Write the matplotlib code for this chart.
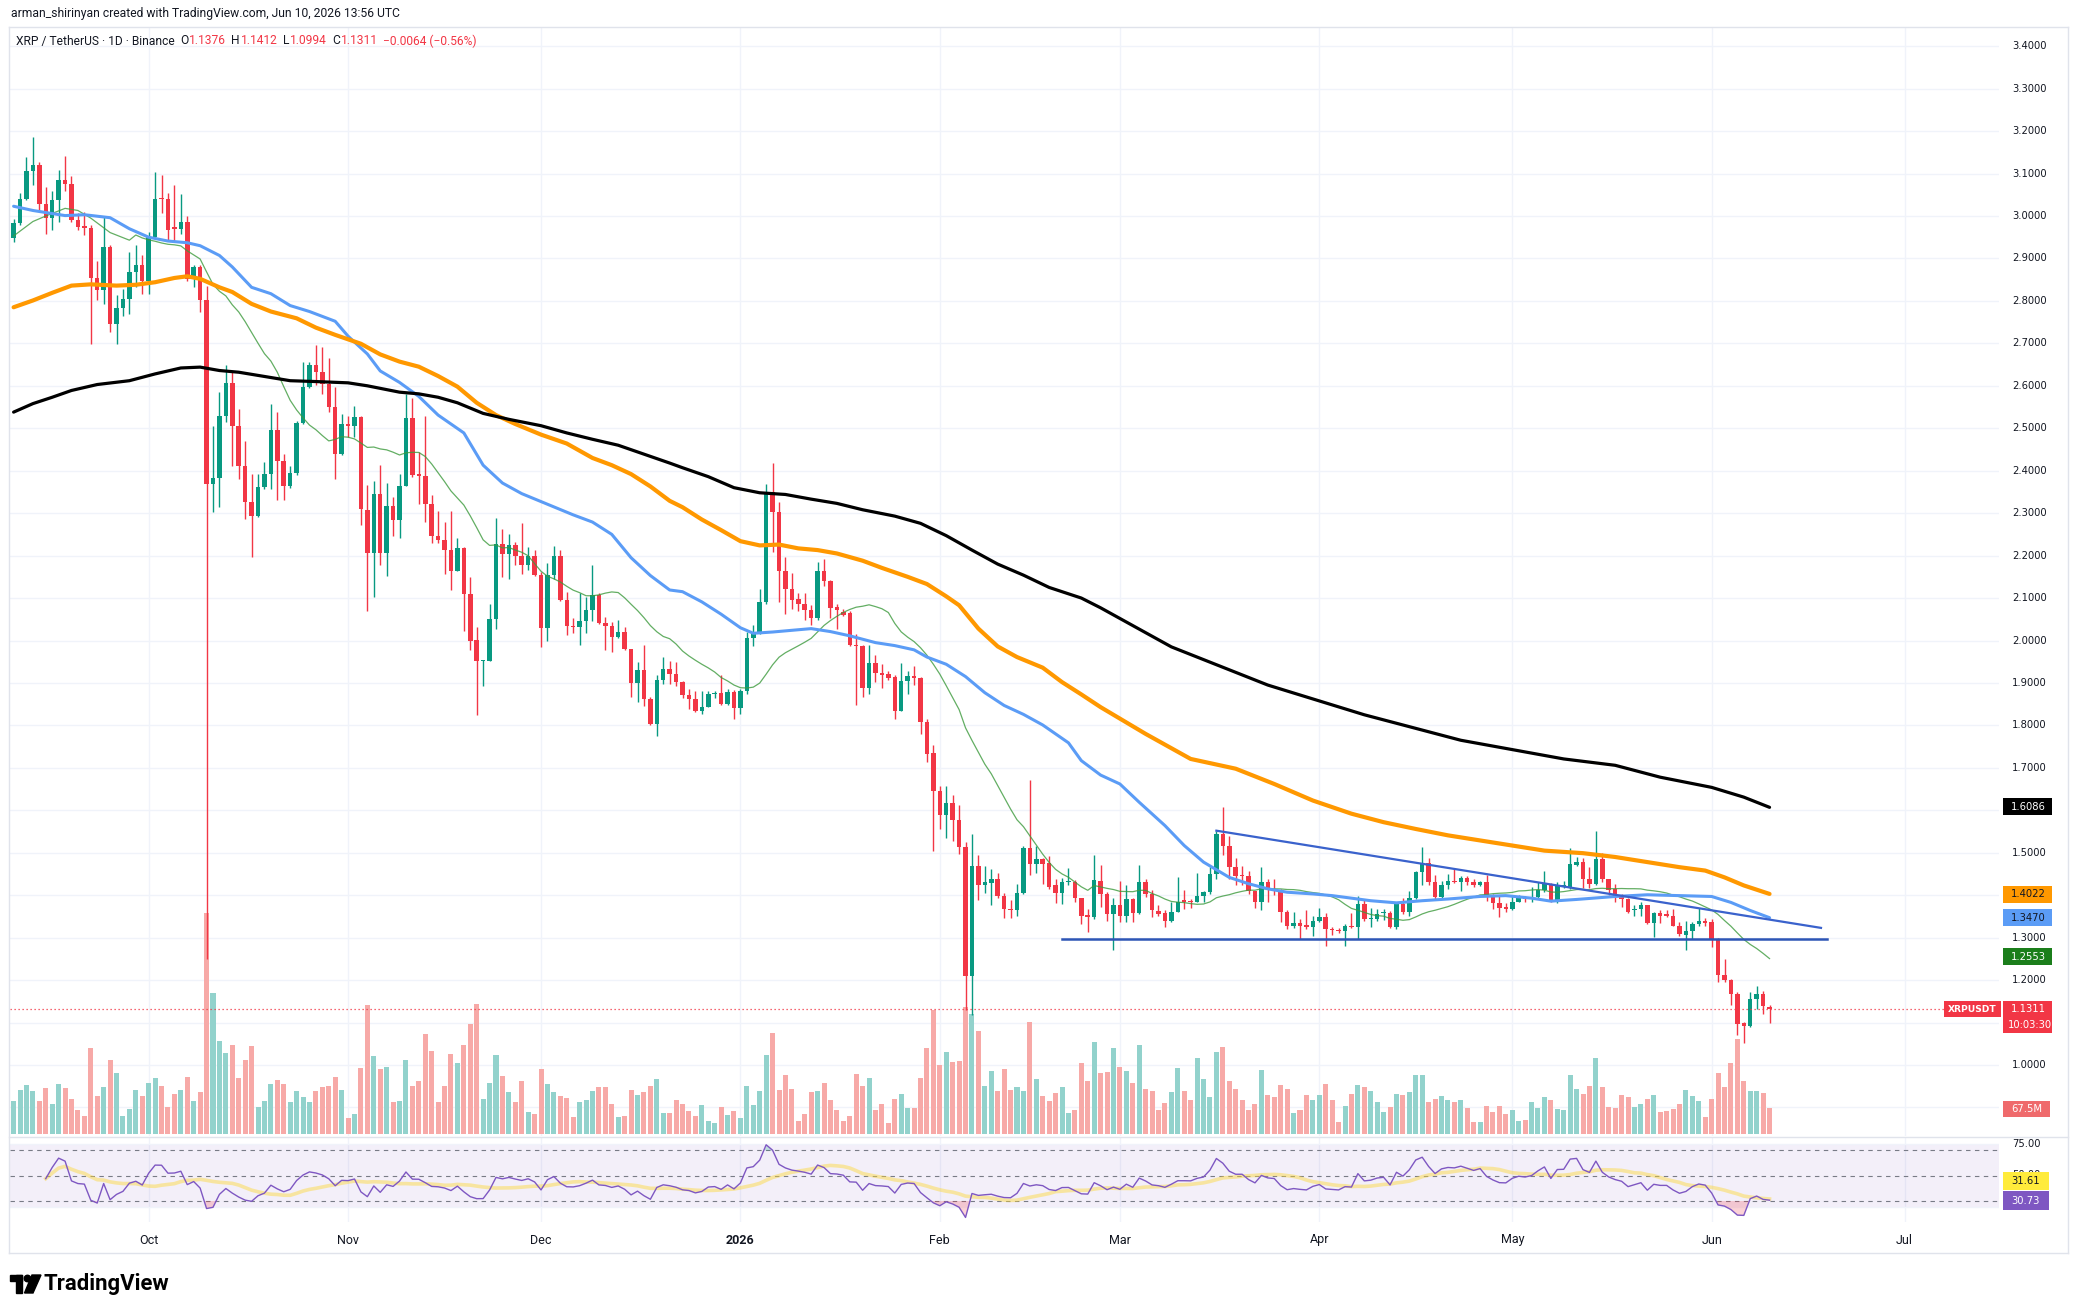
import numpy as np
import pandas as pd
import matplotlib
matplotlib.use("Agg")
import matplotlib.pyplot as plt
import matplotlib.transforms as mtransforms
from matplotlib.patches import Rectangle, Polygon, Ellipse
from matplotlib.lines import Line2D

# ============================ DATA ============================
# daily candles, index 0 = 2025-09-10 ... index 273 = 2026-06-10
opens = [
    2.948, 2.983, 3.039, 3.105, 3.121, 3.029, 2.996, 3.037, 3.085, 3.076,
    2.990, 2.976, 2.972, 2.854, 2.825, 2.927, 2.746, 2.783, 2.805, 2.868,
    2.884, 2.846, 2.950, 3.041, 3.041, 2.971, 2.970, 2.987, 2.852, 2.880,
    2.801, 2.369, 2.382, 2.530, 2.607, 2.506, 2.410, 2.327, 2.294, 2.361,
    2.393, 2.496, 2.424, 2.365, 2.395, 2.513, 2.597, 2.648, 2.632, 2.605,
    2.550, 2.440, 2.510, 2.506, 2.526, 2.308, 2.205, 2.345, 2.205, 2.317,
    2.283, 2.365, 2.525, 2.390, 2.388, 2.321, 2.245, 2.237, 2.213, 2.163,
    2.218, 2.109, 2.000, 1.951, 1.952, 2.050, 2.227, 2.203, 2.224, 2.199,
    2.178, 2.199, 2.155, 2.029, 2.155, 2.199, 2.096, 2.035, 2.031, 2.045,
    2.073, 2.107, 2.042, 2.034, 2.008, 2.021, 1.979, 1.899, 1.930, 1.863,
    1.804, 1.908, 1.934, 1.922, 1.903, 1.871, 1.862, 1.833, 1.843, 1.874,
    1.877, 1.850, 1.879, 1.842, 1.881, 2.007, 2.020, 2.091, 2.349, 2.303,
    2.163, 2.121, 2.097, 2.085, 2.072, 2.053, 2.164, 2.139, 2.080, 2.068,
    2.064, 1.990, 1.988, 1.888, 1.948, 1.923, 1.921, 1.915, 1.835, 1.904,
    1.916, 1.912, 1.807, 1.734, 1.646, 1.589, 1.618, 1.578, 1.513, 1.210,
    1.469, 1.423, 1.429, 1.437, 1.397, 1.368, 1.364, 1.406, 1.511, 1.473,
    1.486, 1.475, 1.423, 1.405, 1.431, 1.432, 1.393, 1.353, 1.348, 1.434,
    1.402, 1.356, 1.376, 1.352, 1.390, 1.358, 1.431, 1.403, 1.362, 1.357,
    1.340, 1.361, 1.387, 1.386, 1.385, 1.399, 1.407, 1.450, 1.544, 1.517,
    1.466, 1.448, 1.445, 1.409, 1.385, 1.432, 1.415, 1.411, 1.361, 1.327,
    1.334, 1.330, 1.324, 1.340, 1.348, 1.321, 1.318, 1.315, 1.328, 1.325,
    1.379, 1.344, 1.344, 1.357, 1.359, 1.324, 1.379, 1.361, 1.393, 1.454,
    1.475, 1.432, 1.395, 1.424, 1.433, 1.431, 1.441, 1.432, 1.423, 1.431,
    1.400, 1.382, 1.369, 1.368, 1.385, 1.393, 1.390, 1.395, 1.412, 1.427,
    1.387, 1.421, 1.419, 1.471, 1.478, 1.438, 1.427, 1.486, 1.437, 1.415,
    1.400, 1.390, 1.364, 1.368, 1.376, 1.334, 1.358, 1.353, 1.352, 1.328,
    1.307, 1.315, 1.331, 1.340, 1.336, 1.297, 1.212, 1.201, 1.167, 1.098,
    1.093, 1.156, 1.167, 1.1376]
highs = [
    2.993, 3.055, 3.139, 3.186, 3.127, 3.068, 3.060, 3.109, 3.141, 3.094,
    3.007, 3.009, 2.978, 2.895, 2.997, 2.931, 2.813, 2.829, 2.915, 2.931,
    2.907, 2.962, 3.103, 3.097, 3.055, 3.072, 3.052, 3.001, 2.884, 2.884,
    2.836, 2.506, 2.585, 2.648, 2.632, 2.546, 2.471, 2.393, 2.393, 2.420,
    2.557, 2.538, 2.440, 2.412, 2.518, 2.656, 2.656, 2.697, 2.691, 2.665,
    2.597, 2.534, 2.530, 2.553, 2.530, 2.367, 2.376, 2.413, 2.371, 2.338,
    2.392, 2.580, 2.571, 2.443, 2.529, 2.342, 2.304, 2.279, 2.306, 2.241,
    2.220, 2.149, 2.031, 1.953, 2.086, 2.289, 2.262, 2.252, 2.233, 2.276,
    2.220, 2.214, 2.161, 2.182, 2.222, 2.214, 2.115, 2.052, 2.111, 2.103,
    2.178, 2.111, 2.056, 2.044, 2.048, 2.031, 1.981, 1.950, 1.989, 1.867,
    1.919, 1.960, 1.951, 1.950, 1.905, 1.885, 1.881, 1.881, 1.881, 1.881,
    1.919, 1.885, 1.883, 1.885, 2.020, 2.037, 2.121, 2.369, 2.417, 2.327,
    2.196, 2.159, 2.112, 2.112, 2.083, 2.184, 2.192, 2.143, 2.087, 2.074,
    2.070, 2.016, 1.989, 1.990, 1.965, 1.944, 1.927, 1.919, 1.946, 1.929,
    1.940, 1.915, 1.814, 1.755, 1.658, 1.657, 1.637, 1.612, 1.525, 1.545,
    1.494, 1.469, 1.461, 1.452, 1.406, 1.389, 1.427, 1.515, 1.671, 1.515,
    1.488, 1.493, 1.438, 1.440, 1.463, 1.435, 1.393, 1.368, 1.495, 1.470,
    1.407, 1.393, 1.434, 1.423, 1.393, 1.471, 1.437, 1.412, 1.376, 1.364,
    1.385, 1.442, 1.412, 1.391, 1.453, 1.411, 1.466, 1.552, 1.607, 1.539,
    1.487, 1.468, 1.456, 1.411, 1.466, 1.437, 1.438, 1.415, 1.364, 1.360,
    1.344, 1.364, 1.352, 1.369, 1.358, 1.325, 1.322, 1.332, 1.358, 1.399,
    1.390, 1.369, 1.368, 1.368, 1.362, 1.383, 1.393, 1.411, 1.456, 1.513,
    1.487, 1.448, 1.434, 1.450, 1.462, 1.446, 1.446, 1.438, 1.434, 1.448,
    1.403, 1.399, 1.382, 1.399, 1.401, 1.399, 1.419, 1.430, 1.456, 1.429,
    1.432, 1.434, 1.511, 1.490, 1.487, 1.466, 1.552, 1.500, 1.438, 1.427,
    1.403, 1.393, 1.376, 1.385, 1.378, 1.360, 1.364, 1.364, 1.368, 1.338,
    1.339, 1.336, 1.369, 1.346, 1.344, 1.299, 1.250, 1.203, 1.171, 1.101,
    1.171, 1.187, 1.175, 1.1412]
lows = [
    2.938, 2.979, 3.037, 3.072, 3.013, 2.958, 2.966, 2.986, 3.060, 2.986,
    2.967, 2.956, 2.699, 2.801, 2.793, 2.726, 2.699, 2.764, 2.769, 2.832,
    2.817, 2.817, 2.946, 3.007, 2.942, 2.942, 2.958, 2.848, 2.832, 2.774,
    1.250, 2.302, 2.314, 2.514, 2.412, 2.381, 2.287, 2.196, 2.290, 2.357,
    2.356, 2.330, 2.330, 2.360, 2.389, 2.510, 2.594, 2.601, 2.581, 2.538,
    2.381, 2.436, 2.479, 2.479, 2.271, 2.069, 2.102, 2.178, 2.153, 2.245,
    2.241, 2.363, 2.384, 2.321, 2.279, 2.229, 2.229, 2.157, 2.118, 2.163,
    2.023, 1.977, 1.825, 1.892, 1.951, 2.027, 2.149, 2.146, 2.178, 2.157,
    2.166, 2.153, 1.985, 1.998, 2.145, 2.094, 2.014, 2.017, 1.989, 2.018,
    2.045, 2.040, 1.977, 1.972, 2.006, 1.977, 1.867, 1.855, 1.846, 1.800,
    1.775, 1.897, 1.897, 1.893, 1.865, 1.839, 1.831, 1.826, 1.843, 1.865,
    1.847, 1.847, 1.814, 1.826, 1.873, 1.986, 2.016, 2.087, 2.209, 2.091,
    2.062, 2.074, 2.070, 2.049, 2.037, 2.049, 2.129, 2.053, 2.028, 2.058,
    1.986, 1.847, 1.868, 1.873, 1.902, 1.889, 1.906, 1.814, 1.833, 1.875,
    1.894, 1.780, 1.713, 1.505, 1.557, 1.534, 1.528, 1.497, 1.130, 1.118,
    1.389, 1.406, 1.376, 1.393, 1.347, 1.347, 1.351, 1.404, 1.448, 1.452,
    1.427, 1.415, 1.382, 1.380, 1.424, 1.383, 1.331, 1.314, 1.343, 1.372,
    1.340, 1.272, 1.336, 1.336, 1.336, 1.356, 1.395, 1.348, 1.350, 1.325,
    1.338, 1.360, 1.368, 1.369, 1.385, 1.383, 1.403, 1.437, 1.495, 1.438,
    1.423, 1.423, 1.403, 1.369, 1.364, 1.383, 1.400, 1.336, 1.320, 1.322,
    1.297, 1.320, 1.305, 1.336, 1.281, 1.306, 1.310, 1.281, 1.322, 1.297,
    1.340, 1.325, 1.340, 1.341, 1.322, 1.320, 1.356, 1.352, 1.392, 1.424,
    1.424, 1.391, 1.393, 1.415, 1.429, 1.411, 1.424, 1.420, 1.421, 1.387,
    1.368, 1.348, 1.360, 1.366, 1.383, 1.385, 1.385, 1.391, 1.407, 1.385,
    1.382, 1.416, 1.415, 1.468, 1.416, 1.416, 1.423, 1.432, 1.401, 1.383,
    1.372, 1.358, 1.352, 1.352, 1.331, 1.301, 1.334, 1.348, 1.328, 1.305,
    1.270, 1.297, 1.328, 1.328, 1.277, 1.196, 1.195, 1.142, 1.071, 1.053,
    1.089, 1.132, 1.120, 1.0994]
closes = [
    2.984, 3.041, 3.107, 3.121, 3.029, 2.996, 3.038, 3.085, 3.075, 2.990,
    2.975, 2.972, 2.854, 2.825, 2.927, 2.746, 2.783, 2.805, 2.868, 2.884,
    2.846, 2.950, 3.041, 3.040, 2.968, 2.970, 2.987, 2.852, 2.880, 2.801,
    2.369, 2.382, 2.530, 2.607, 2.506, 2.410, 2.327, 2.294, 2.361, 2.393,
    2.496, 2.424, 2.365, 2.395, 2.513, 2.597, 2.648, 2.632, 2.605, 2.550,
    2.440, 2.510, 2.506, 2.526, 2.310, 2.205, 2.345, 2.205, 2.317, 2.283,
    2.365, 2.525, 2.390, 2.388, 2.321, 2.245, 2.237, 2.213, 2.163, 2.218,
    2.109, 2.000, 1.951, 1.952, 2.050, 2.227, 2.203, 2.224, 2.199, 2.178,
    2.199, 2.155, 2.029, 2.155, 2.199, 2.096, 2.034, 2.031, 2.045, 2.073,
    2.107, 2.042, 2.034, 2.008, 2.021, 1.979, 1.899, 1.930, 1.863, 1.804,
    1.908, 1.934, 1.922, 1.903, 1.871, 1.862, 1.833, 1.843, 1.874, 1.877,
    1.850, 1.879, 1.842, 1.881, 2.007, 2.020, 2.091, 2.349, 2.303, 2.163,
    2.121, 2.096, 2.085, 2.072, 2.053, 2.164, 2.139, 2.076, 2.072, 2.060,
    1.989, 1.986, 1.888, 1.948, 1.923, 1.919, 1.912, 1.835, 1.904, 1.916,
    1.911, 1.807, 1.732, 1.646, 1.589, 1.618, 1.578, 1.513, 1.210, 1.469,
    1.423, 1.431, 1.437, 1.397, 1.368, 1.364, 1.406, 1.511, 1.473, 1.486,
    1.474, 1.420, 1.405, 1.431, 1.432, 1.393, 1.352, 1.348, 1.436, 1.402,
    1.356, 1.376, 1.352, 1.390, 1.358, 1.431, 1.403, 1.364, 1.356, 1.340,
    1.361, 1.385, 1.385, 1.384, 1.399, 1.407, 1.450, 1.544, 1.517, 1.466,
    1.445, 1.445, 1.409, 1.385, 1.432, 1.415, 1.411, 1.361, 1.328, 1.334,
    1.328, 1.324, 1.340, 1.348, 1.321, 1.318, 1.315, 1.327, 1.325, 1.379,
    1.344, 1.347, 1.356, 1.359, 1.324, 1.379, 1.361, 1.393, 1.454, 1.474,
    1.432, 1.395, 1.424, 1.433, 1.431, 1.441, 1.432, 1.423, 1.432, 1.399,
    1.382, 1.369, 1.368, 1.385, 1.393, 1.390, 1.395, 1.412, 1.427, 1.387,
    1.423, 1.424, 1.474, 1.478, 1.438, 1.427, 1.486, 1.437, 1.413, 1.399,
    1.390, 1.360, 1.368, 1.376, 1.334, 1.358, 1.352, 1.352, 1.328, 1.309,
    1.315, 1.331, 1.340, 1.335, 1.297, 1.212, 1.201, 1.167, 1.097, 1.093,
    1.156, 1.167, 1.138, 1.1311]
# volume bar heights (relative units)
volumes = [
    100, 132, 147, 129, 99, 138, 90, 150, 138, 105,
    72, 54, 258, 114, 141, 222, 183, 54, 75, 132,
    114, 153, 168, 144, 81, 120, 132, 171, 99, 126,
    664, 423, 279, 243, 267, 168, 222, 264, 81, 99,
    150, 162, 150, 96, 129, 111, 96, 129, 141, 144,
    171, 132, 48, 60, 198, 387, 234, 195, 201, 96,
    99, 222, 144, 159, 300, 249, 96, 144, 240, 213,
    267, 330, 390, 105, 153, 237, 174, 126, 96, 159,
    66, 60, 195, 150, 126, 114, 108, 51, 96, 102,
    129, 141, 141, 90, 51, 54, 132, 117, 126, 144,
    165, 63, 63, 102, 90, 69, 54, 87, 39, 33,
    81, 57, 69, 48, 144, 87, 129, 237, 303, 132,
    177, 135, 39, 60, 126, 129, 153, 102, 72, 39,
    54, 180, 144, 168, 72, 90, 33, 105, 120, 77,
    78, 168, 258, 372, 207, 246, 217, 219, 380, 360,
    309, 144, 189, 130, 195, 132, 142, 130, 336, 165,
    114, 99, 124, 141, 63, 72, 213, 159, 276, 184,
    186, 258, 201, 189, 153, 267, 135, 129, 72, 93,
    126, 198, 129, 102, 228, 165, 111, 246, 261, 159,
    135, 102, 72, 90, 192, 117, 111, 147, 135, 63,
    72, 117, 102, 117, 150, 102, 36, 84, 120, 147,
    141, 129, 96, 66, 81, 120, 117, 126, 177, 177,
    96, 105, 114, 102, 96, 102, 78, 36, 36, 84,
    66, 84, 60, 72, 39, 42, 96, 78, 111, 102,
    75, 72, 177, 135, 120, 144, 228, 141, 81, 78,
    117, 111, 81, 90, 105, 117, 66, 69, 75, 90,
    132, 114, 99, 51, 105, 183, 141, 213, 285, 159,
    129, 129, 123, 78]

month_ticks = [21, 52, 82, 113, 144, 172, 203, 233, 264, 294]
month_labels = ["Oct", "Nov", "Dec", "2026", "Feb", "Mar", "Apr", "May", "Jun", "Jul"]

# 20-day MA: readings for the first days (before 20 closes exist)
ma20_head_day = [0, 3, 5, 8, 10, 12, 15, 18]
ma20_head_val = [2.953, 2.987, 3.000, 3.018, 3.013, 2.995, 2.961, 2.943]

ma50_day = [0, 3, 8, 11, 15, 18, 21, 24, 27, 29, 32, 34, 37, 40, 43, 46, 50, 52,
            55, 57, 60, 63, 66, 70, 73, 76, 79, 83, 87, 90, 93, 96, 99, 102, 104,
            107, 110, 113, 115, 118, 121, 124, 127, 130, 134, 137, 140, 142, 145,
            148, 151, 154, 157, 160, 164, 166, 169, 172, 175, 179, 182, 185, 189,
            192, 195, 198, 202, 205, 208, 211, 215, 219, 223, 228, 232, 236, 239,
            243, 249, 254, 259, 264, 267, 270, 273]
ma50_val = [3.023, 3.013, 3.001, 3.003, 2.996, 2.970, 2.950, 2.941, 2.937, 2.930,
            2.907, 2.880, 2.832, 2.817, 2.789, 2.775, 2.752, 2.717, 2.675, 2.635,
            2.608, 2.575, 2.531, 2.489, 2.413, 2.371, 2.346, 2.321, 2.296, 2.279,
            2.250, 2.195, 2.153, 2.119, 2.115, 2.091, 2.062, 2.030, 2.017, 2.020,
            2.024, 2.028, 2.021, 2.011, 1.995, 1.988, 1.978, 1.961, 1.944, 1.915,
            1.877, 1.847, 1.826, 1.801, 1.759, 1.717, 1.683, 1.662, 1.619, 1.564,
            1.517, 1.478, 1.442, 1.427, 1.415, 1.407, 1.403, 1.399, 1.393, 1.387,
            1.382, 1.387, 1.391, 1.397, 1.399, 1.393, 1.386, 1.390, 1.397, 1.401,
            1.399, 1.397, 1.383, 1.364, 1.347]

ma100_day = [0, 3, 6, 9, 12, 16, 19, 22, 25, 27, 29, 32, 34, 37, 40, 44, 47, 50,
             54, 57, 60, 63, 66, 69, 72, 75, 78, 82, 86, 90, 93, 96, 99, 102, 104,
             107, 110, 113, 116, 119, 122, 125, 128, 132, 135, 139, 142, 145, 147,
             150, 153, 156, 160, 163, 166, 169, 176, 183, 190, 196, 202, 208, 213,
             218, 223, 228, 233, 238, 244, 249, 254, 259, 263, 266, 269, 273]
ma100_val = [2.785, 2.801, 2.819, 2.836, 2.839, 2.836, 2.838, 2.844, 2.854, 2.858,
             2.852, 2.832, 2.821, 2.793, 2.775, 2.759, 2.737, 2.720, 2.699, 2.674,
             2.657, 2.645, 2.623, 2.598, 2.560, 2.531, 2.510, 2.485, 2.464, 2.430,
             2.413, 2.392, 2.363, 2.329, 2.314, 2.285, 2.260, 2.234, 2.224, 2.226,
             2.217, 2.213, 2.205, 2.188, 2.171, 2.150, 2.133, 2.104, 2.083, 2.028,
             1.986, 1.961, 1.936, 1.902, 1.873, 1.843, 1.780, 1.721, 1.698, 1.662,
             1.623, 1.592, 1.572, 1.556, 1.541, 1.529, 1.517, 1.505, 1.499, 1.490,
             1.478, 1.466, 1.458, 1.442, 1.423, 1.403]

ma200_day = [0, 3, 6, 9, 13, 18, 22, 26, 29, 32, 35, 39, 43, 47, 52, 55, 60, 63,
             66, 69, 73, 77, 82, 86, 90, 94, 98, 102, 104, 108, 112, 116, 120, 124,
             128, 132, 137, 141, 145, 149, 153, 157, 161, 166, 169, 180, 195, 210,
             225, 241, 249, 256, 264, 269, 273]
ma200_val = [2.538, 2.558, 2.573, 2.589, 2.603, 2.612, 2.628, 2.642, 2.644, 2.636,
             2.632, 2.622, 2.612, 2.610, 2.607, 2.600, 2.585, 2.581, 2.573, 2.560,
             2.535, 2.521, 2.506, 2.489, 2.474, 2.460, 2.439, 2.418, 2.407, 2.386,
             2.360, 2.348, 2.344, 2.333, 2.323, 2.308, 2.293, 2.276, 2.247, 2.213,
             2.180, 2.154, 2.125, 2.100, 2.077, 1.985, 1.895, 1.825, 1.765, 1.721,
             1.706, 1.678, 1.654, 1.631, 1.607]

resist_day = [187, 281]
resist_val = [1.552, 1.323]
support_day = [163, 282]
support_val = [1.296, 1.296]

price_ticks = [1.0, 1.2, 1.3, 1.5, 1.7, 1.8, 1.9, 2.0, 2.1, 2.2, 2.3, 2.4, 2.5,
               2.6, 2.7, 2.8, 2.9, 3.0, 3.1, 3.2, 3.3, 3.4]
last_price = 1.1311
ma_tags = [(1.6086, "1.6086", "#000000", "white"),
           (1.4022, "1.4022", "#FF9800", "#131722"),
           (1.3470, "1.3470", "#5B9CF6", "#131722"),
           (1.2553, "1.2553", "#1B7E1B", "white")]
countdown = "10:03:30"
volume_tag = "67.5M"
rsi_ticks = [75, 50, 25]
rsi_ma_tag = "31.61"
rsi_tag = "30.73"

title = "arman_shirinyan created with TradingView.com, Jun 10, 2026 13:56 UTC"
legend_parts = [("XRP / TetherUS \u00b7 1D \u00b7 Binance", "d"), ("O", "d"), ("1.1376", "r"),
                ("H", "d"), ("1.1412", "r"), ("L", "d"), ("1.0994", "r"),
                ("C", "d"), ("1.1311", "r"), ("\u22120.0064 (\u22120.56%)", "r")]

assert len(opens) == len(highs) == len(lows) == len(closes) == len(volumes) == 274

# ============================ LAYOUT ============================
W, H = 2078, 1314
fig = plt.figure(figsize=(W / 100, H / 100), dpi=100, facecolor="white")
renderer = fig.canvas.get_renderer()

PX_DAY = 6.432
L, R = 10, 1999
TOP, BOT = 27, 1136
RT, RB = 1137, 1222
X0 = -0.56
X1 = X0 + (R - L) / PX_DAY
PPX = 424.5
P_TOP = 1 + (1065 - TOP) / PPX
P_BOT = 1 + (1065 - BOT) / PPX
RSI_TOP = 70 + (1150 - RT) / 1.275
RSI_BOT = 30 - (RB - 1201) / 1.275

DARK = "#131722"
RED = "#F23645"
GREEN = "#089981"
GRID = "#F0F3FA"
BORDER = "#E0E3EB"


def add_ax(t, b):
    return fig.add_axes([L / W, 1 - b / H, (R - L) / W, (b - t) / H])


ax_bg = add_ax(TOP, BOT)
ax = add_ax(TOP, BOT)
axr = add_ax(RT, RB)
for a in (ax_bg, ax, axr):
    a.set_xlim(X0, X1)
    for s in a.spines.values():
        s.set_visible(False)
    a.set_xticks([])
    a.set_yticks([])
ax.patch.set_visible(False)
ax_bg.set_zorder(1)
ax.set_zorder(2)
ax.set_ylim(P_BOT, P_TOP)
ax_bg.set_ylim(-6, (BOT - TOP) * 3 - 6)
axr.set_ylim(RSI_BOT, RSI_TOP)

# grid
gtrans = mtransforms.blended_transform_factory(ax_bg.transAxes, ax.transData)
for k in range(26):
    p = 0.9 + 0.1 * k
    ax_bg.plot([0, 1], [p, p], transform=gtrans, color=GRID, lw=1.0, zorder=0)
for m in month_ticks:
    ax_bg.axvline(m, color=GRID, lw=1.0, zorder=0)
    axr.axvline(m, color=GRID, lw=1.0, zorder=0)

n = len(closes)
days = np.arange(n)
o = np.array(opens)
c = np.array(closes)
hi = np.array(highs)
lo = np.array(lows)
up = c >= o

# volume
vcol = np.where(up, "#92D2CC", "#F7A9A7")
ax_bg.bar(days, volumes, width=0.78, color=vcol, linewidth=0, zorder=2)

# candles
ccol = np.where(up, GREEN, RED)
ax.vlines(days, lo, hi, colors=ccol, lw=1.0, zorder=2)
body_lo = np.minimum(o, c)
body_h = np.maximum(np.abs(c - o), 1.3 / PPX)
ax.bar(days, body_h, bottom=body_lo, width=0.70, color=ccol, linewidth=0, zorder=2.1)

# moving averages
s20 = pd.Series(c).rolling(20).mean()
g_x = list(ma20_head_day) + list(range(19, n))
g_y = list(ma20_head_val) + list(s20.iloc[19:])
ax.plot(g_x, g_y, color="#3C9A3C", lw=0.9, alpha=0.8, zorder=3)
ax.plot(ma50_day, ma50_val, color="#5B9CF6", lw=2.2, zorder=3.1, solid_capstyle="round")
ax.plot(ma100_day, ma100_val, color="#FF9800", lw=3.0, zorder=3.2, solid_capstyle="round")
ax.plot(ma200_day, ma200_val, color="#000000", lw=2.3, zorder=3.3, solid_capstyle="round")

# drawn trend lines
ax.plot(resist_day, resist_val, color="#3A62CC", lw=1.6, zorder=4)
ax.plot(support_day, support_val, color="#2D55B5", lw=1.8, zorder=4)

# last price dotted line
ax.axhline(last_price, color=RED, lw=0.9, ls=(0, (1, 2.2)), zorder=2.5)

# RSI
cs = pd.Series(c)
d = cs.diff().fillna(0.0)
gain = d.clip(lower=0).ewm(alpha=1 / 14, adjust=False).mean()
loss = (-d.clip(upper=0)).ewm(alpha=1 / 14, adjust=False).mean()
rsi = 100 - 100 / (1 + gain / loss)
st = 5
rsi_v = rsi.iloc[st:].values
rsi_ma = pd.Series(rsi_v).rolling(14, min_periods=1).mean().values
rx = days[st:]
axr.axhspan(25, 75, color="#7E57C2", alpha=0.09, lw=0, zorder=0.5)
for lev in (75, 25):
    axr.axhline(lev, color=GRID, lw=1.0, zorder=0.6)
for lev in (70, 50, 30):
    axr.axhline(lev, color="#787B86", lw=0.8, ls=(0, (4, 4)), zorder=1)
axr.fill_between(rx, rsi_v, 30, where=rsi_v < 30, interpolate=True, color=RED, alpha=0.22, lw=0, zorder=1.5)
axr.fill_between(rx, rsi_v, 70, where=rsi_v > 70, interpolate=True, color=GREEN, alpha=0.22, lw=0, zorder=1.5)
axr.plot(rx, rsi_ma, color="#FDD835", lw=2.6, alpha=0.45, zorder=2)
axr.plot(rx, rsi_v, color="#7E57C2", lw=1.0, zorder=3)


# ============================ TEXT / LABELS ============================
def F(x, y):
    return x / W, 1 - y / H


def yp_main(v):
    return H - ax.transData.transform((0, v))[1]


def yp_rsi(v):
    return H - axr.transData.transform((0, v))[1]


def xp(dv):
    return ax.transData.transform((dv, 0))[0]


def box(x0, x1, y0, y1, color):
    fig.add_artist(Rectangle(F(x0, y1), (x1 - x0) / W, (y1 - y0) / H,
                             transform=fig.transFigure, facecolor=color,
                             edgecolor="none", zorder=10))


AXF = dict(family="DejaVu Sans", fontsize=7.2)

for p in price_ticks:
    fig.text(*F(2012, yp_main(p)), f"{p:.4f}", color=DARK, ha="left", va="center", **AXF)
for v in rsi_ticks:
    fig.text(*F(2012, yp_rsi(v)), f"{v:.2f}", color=DARK, ha="left", va="center", **AXF)

for val, txt, bg, fg in ma_tags:
    yc = yp_main(val)
    box(2003, 2052, yc - 8.5, yc + 8.5, bg)
    fig.text(*F(2011, yc), txt, color=fg, ha="left", va="center", zorder=11, **AXF)

# last price tag
yc = yp_main(last_price)
box(2003, 2052, yc - 8.5, yc + 24, RED)
fig.text(*F(2011, yc), f"{last_price:.4f}", color="white", ha="left", va="center", zorder=11, **AXF)
fig.text(*F(2008, yc + 15.5), countdown, color="white", ha="left", va="center", zorder=11, **AXF)
box(1944, 2001, yc - 8, yc + 8, RED)
fig.text(*F(1972.5, yc), "XRPUSDT", color="white", ha="center", va="center", zorder=11,
         family="DejaVu Sans", fontsize=6.6, weight="bold")

# volume tag
box(2003, 2050, 1101, 1117, "#EF6A6C")
fig.text(*F(2011, 1109), volume_tag, color="white", ha="left", va="center", zorder=11, **AXF)

# RSI tags
box(2003, 2049, 1172, 1190, "#FFEB3B")
fig.text(*F(2011, 1181), rsi_ma_tag, color=DARK, ha="left", va="center", zorder=11, **AXF)
box(2003, 2049, 1191, 1210, "#7E57C2")
fig.text(*F(2011, 1200.5), rsi_tag, color="white", ha="left", va="center", zorder=11, **AXF)

# time axis labels
for m, lab in zip(month_ticks, month_labels):
    fig.text(*F(xp(m), 1240), lab, color=DARK, ha="center", va="center",
             family="Roboto", fontsize=9, weight="bold" if lab == "2026" else "normal")

# borders
def hline(y, x0, x1, col=BORDER, lw=1.0):
    fig.add_artist(Line2D([x0 / W, x1 / W], [1 - y / H, 1 - y / H], transform=fig.transFigure,
                          color=col, lw=lw, zorder=9))


def vline(x, y0, y1, col=BORDER, lw=1.0):
    fig.add_artist(Line2D([x / W, x / W], [1 - y0 / H, 1 - y1 / H], transform=fig.transFigure,
                          color=col, lw=lw, zorder=9))


hline(27, 9, 2068)
hline(1136.5, 9, 2068)
hline(1253, 9, 2068)
vline(9, 27, 1253)
vline(2068, 27, 1253)


# header texts (fitted to measured widths)
def fit_text(x, y, s, target, **kw):
    t = fig.text(*F(x, y), s, ha="left", va="center", fontsize=10, **kw)
    w = t.get_window_extent(renderer).width
    t.set_fontsize(10 * target / w)
    return t


fit_text(10.6, 14, title, 389, color=DARK, family="Roboto")

gap = 5.5
fs0 = 10
ws = []
for s, _ in legend_parts:
    t = fig.text(0, 0, s, fontsize=fs0, family="Roboto")
    ws.append(t.get_window_extent(renderer).width)
    t.remove()
gaps = [gap if (legend_parts[k][1] == "r" or k == 0) else 0.8 for k in range(len(legend_parts) - 1)]
scale = (461 - sum(gaps)) / sum(ws)
x = 16
for k, (s, col) in enumerate(legend_parts):
    fig.text(*F(x, 41), s, fontsize=fs0 * scale, family="Roboto", color=RED if col == "r" else DARK,
             ha="left", va="center")
    x += ws[k] * scale + (gaps[k] if k < len(gaps) else 0)

# TradingView logo
fig.add_artist(Rectangle(F(10, 1281), 12 / W, 6 / H, transform=fig.transFigure, color="#000000"))
fig.add_artist(Rectangle(F(16, 1293), 6 / W, 18 / H, transform=fig.transFigure, color="#000000"))
fig.add_artist(Ellipse(F(27.5, 1278.5), 6.5 / W, 6.5 / H, transform=fig.transFigure, color="#000000"))
fig.add_artist(Polygon([F(32, 1275), F(41, 1275), F(33, 1293), F(24.5, 1293)], closed=True,
                       transform=fig.transFigure, color="#000000"))
fit_text(44, 1284, "TradingView", 126, color="#000000", family="Roboto", weight="bold")

fig.savefig("out.png", dpi=100, facecolor="white")
